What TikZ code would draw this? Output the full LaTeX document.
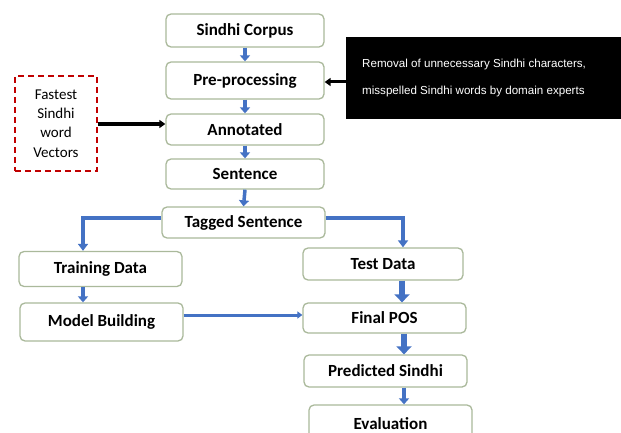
\documentclass[tikz,border=0pt]{standalone}
\usepackage{fontspec}
\setmainfont{Carlito}
\newfontfamily\arialf{Liberation Sans}
\usetikzlibrary{arrows.meta}
\definecolor{boxline}{RGB}{170,185,155}
\definecolor{flowblue}{RGB}{68,114,196}
\definecolor{dashred}{RGB}{192,0,0}
\begin{document}
\begin{tikzpicture}[x=1pt,y=-1pt,
  stepbox/.style={draw=boxline, line width=1.3pt, rounded corners=5pt, fill=white,
    inner sep=0pt, font=\fontsize{17}{20}\selectfont\bfseries},
  smallarr/.style={draw=flowblue, line width=3.5pt, -{Triangle[width=10pt,length=6pt]}},
  bigarr/.style={draw=flowblue, line width=5.5pt, -{Triangle[width=15pt,length=8pt]}},
  branch/.style={draw=flowblue, line width=4pt, -{Triangle[width=10pt,length=7pt]}},
  blackarr/.style={draw=black, line width=3pt, -{Triangle[width=8pt,length=6pt]}}
]
\useasboundingbox (0,0) rectangle (621,433);
\clip (0,0) rectangle (621,433);
\fill[white] (0,0) rectangle (621,433);

% main column
\node[stepbox, minimum width=158pt, minimum height=33pt] (corpus) at (245,30.5) {Sindhi Corpus};
\node[stepbox, minimum width=158pt, minimum height=37pt] (pre) at (245,80.5) {Pre-processing};
\node[stepbox, minimum width=158pt, minimum height=31pt] (ann) at (245,129.5) {Annotated};
\node[stepbox, minimum width=158pt, minimum height=30pt] (sent) at (245,174) {Sentence};
\node[stepbox, minimum width=163pt, minimum height=31pt] (tagged) at (243.5,222.5) {Tagged Sentence};

% left branch
\node[stepbox, minimum width=163pt, minimum height=35pt] (train) at (100.5,269) {Training Data};
\node[stepbox, minimum width=163pt, minimum height=38pt] (model) at (101.5,322) {Model Building};

% right branch
\node[stepbox, minimum width=160pt, minimum height=32pt] (test) at (383,264) {Test Data};
\node[stepbox, minimum width=163pt, minimum height=30pt] (final) at (384.5,318) {Final POS};
\node[stepbox, minimum width=163pt, minimum height=32pt] (pred) at (385.5,371) {Predicted Sindhi};
\node[stepbox, minimum width=163pt, minimum height=38pt] (eval) at (390.5,424) {Evaluation};

% dashed red box
\node[draw=dashred, line width=2pt, dash pattern=on 6pt off 4pt, minimum width=82pt, minimum height=95pt,
  inner sep=0pt, align=center, font=\fontsize{15}{19.3}\selectfont] (vec) at (56,123.5)
  {Fastest\\Sindhi\\word\\Vectors};

% black note box
\node[fill=black, minimum width=280pt, minimum height=82pt, inner sep=0pt] (note) at (486,78) {};
\node[anchor=west, text=white, align=left, inner sep=0pt,
  font=\arialf\fontsize{11.6}{27}\selectfont] (notetext) at (362,78.5)
  {Removal of unnecessary Sindhi characters,\\misspelled Sindhi words by domain experts};

% connectors
\draw[smallarr] (corpus.south) -- (pre.north);
\draw[smallarr] (pre.south) -- (ann.north);
\draw[smallarr] (ann.south) -- (sent.north);
\draw[smallarr] (sent.south) -- (tagged.north);

\draw[blackarr, line width=4pt] (vec.east |- 0,124) -- (ann.west |- 0,124);
\draw[blackarr] (note.west |- 0,82) -- (pre.east |- 0,82);

\coordinate (lturn) at (83,218);
\coordinate (rturn) at (403,218);
\draw[branch] (tagged.west |- lturn) -- (lturn) -- (lturn |- train.north);
\draw[branch] (tagged.east |- rturn) -- (rturn) -- (rturn |- test.north);

\draw[smallarr] (train.south -| 83,0) -- (model.north -| 83,0);
\draw[draw=flowblue, line width=3pt, -{Triangle[width=7pt,length=5pt]}] (model.east |- 0,315) -- (final.west |- 0,315);

\draw[bigarr] (test.south -| 402,0) -- (final.north -| 402,0);
\draw[bigarr] (final.south -| 404,0) -- (pred.north -| 404,0);
\draw[smallarr] (pred.south -| 404,0) -- (eval.north -| 404,0);
\end{tikzpicture}
\end{document}
